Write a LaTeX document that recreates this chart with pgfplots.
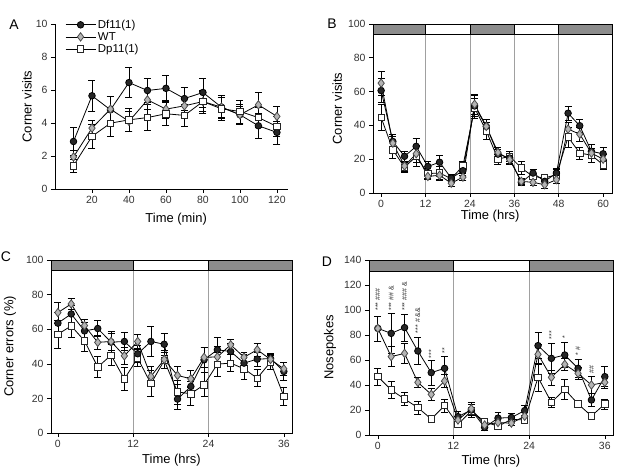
\documentclass[border=0pt]{standalone}
\usepackage{fontspec}
\setmainfont{Liberation Sans}
\usepackage{pgfplots}
\usepackage{pgfplotstable}
\pgfplotsset{compat=1.18}

\definecolor{barg}{HTML}{8C8C8C}
\definecolor{wtg}{HTML}{B4B4B4}
\definecolor{vline}{HTML}{A0A0A0}
\definecolor{tickc}{HTML}{333333}

% panel A: corner visits per 10 min
\pgfplotstableread{
x   df    dfe   wt    wte   dp    dpe
10  2.88  0.85  1.94  0.40  1.41  0.40
20  5.65  0.92  3.69  0.50  3.19  0.70
30  4.80  0.80  4.84  0.78  3.99  0.80
40  6.45  0.90  4.10  0.60  4.19  0.70
50  5.97  0.73  5.40  0.60  4.33  0.78
60  6.10  0.80  4.84  0.55  4.56  0.70
70  5.48  0.70  5.04  0.50  4.46  0.67
80  5.85  0.88  5.30  0.60  5.30  0.70
90  4.96  0.70  4.96  0.60  4.86  0.70
100 4.50  0.60  4.50  0.50  4.70  0.70
110 3.83  0.75  5.10  0.75  4.33  0.60
120 3.43  0.70  4.40  0.60  3.79  0.60
}\tabA

% panel B: corner visits, 60 h
\pgfplotstableread{
x     df    dfe  wt    wte  dp    dpe
0     60.6  7.0  65.0  7.0  44.7  7.7
3.16  30.5  4.0  29.5  4.0  25.6  5.0
6.32  21.7  3.0  16.0  3.0  15.2  3.0
9.47  27.6  5.0  23.2  5.0  21.7  6.0
12.63 15.7  3.0  9.8   2.0  11.5  3.0
15.79 18.2  4.0  10.5  3.0  11.8  4.0
18.95 8.8   2.0  5.8   2.0  8.5   2.0
22.11 13.2  3.0  9.4   2.0  16.0  3.0
25.26 51.5  6.0  52.5  6.0  50.3  6.0
28.42 39.4  4.0  39.4  4.0  36.8  5.0
31.58 23.0  3.0  24.0  3.0  20.0  3.0
34.74 20.7  3.0  19.7  3.0  21.7  3.0
37.89 6.3   2.0  6.9   2.0  14.8  4.0
41.05 11.8  2.0  6.3   2.0  9.8   2.0
44.21 6.9   2.0  4.9   2.0  8.9   2.0
47.37 11.8  3.0  7.9   2.0  10.8  3.0
50.53 47.2  4.0  37.8  4.0  33.1  6.0
53.68 39.8  4.0  34.8  4.0  23.6  3.5
56.84 24.6  4.0  23.6  3.0  22.4  4.0
60    23.2  4.0  20.0  3.0  16.7  3.0
}\tabB

% panel C: corner errors (%), 36 h
\pgfplotstableread{
x     df    dfe  wt    wte  dp    dpe
0     63.5  6.0  69.6  6.0  57.1  8.0
2.12  68.8  5.0  74.6  3.0  61.9  6.5
4.24  59.0  5.0  62.1  3.5  53.3  6.0
6.35  60.4  4.5  52.4  4.0  38.1  6.0
8.47  52.5  5.0  52.9  6.0  45.0  6.0
10.59 52.9  5.0  44.6  5.0  31.2  6.5
12.71 45.8  5.0  52.9  4.0  43.3  5.0
14.82 52.9  8.5  32.7  6.0  28.5  7.5
16.94 51.3  6.5  42.5  5.0  41.9  4.5
19.06 19.6  6.0  33.3  5.0  23.7  7.0
21.18 26.9  5.0  31.3  5.0  22.7  7.0
23.29 42.3  7.0  43.7  6.0  27.9  7.0
25.41 48.1  7.0  44.0  6.0  39.8  7.0
27.53 47.1  5.0  51.0  3.0  40.4  5.0
29.65 40.4  5.0  43.8  3.0  37.1  6.0
31.76 42.7  4.0  48.1  4.0  31.7  5.0
33.88 43.0  3.0  42.5  3.0  41.0  4.0
36    35.6  5.0  37.1  4.0  21.2  5.0
}\tabC

% panel D: nosepokes, 36 h
\pgfplotstableread{
x     df    dfe   wt    wte  dp    dpe
0     85.3  10.0  85.3  10.0 46.7  7.0
2.12  81.3  16.0  62.7  8.0  36.0  6.7
4.24  85.9  11.0  65.3  8.0  28.8  5.0
6.35  67.2  11.0  42.1  4.0  21.9  5.0
8.47  49.9  10.0  32.5  5.0  12.8  2.0
10.59 53.3  10.0  43.2  5.0  23.5  5.0
12.71 14.7  4.0   12.0  3.0  8.5   2.0
14.82 20.0  6.0   21.0  5.0  19.2  5.0
16.94 6.1   2.0   8.0   2.0  10.7  2.0
19.06 13.5  5.0   10.0  3.0  7.0   2.0
21.18 14.0  3.0   9.5   2.0  12.5  2.0
23.29 19.5  4.0   15.0  3.0  12.0  2.0
25.41 71.5  10.5  64.5  8.0  46.1  11.0
27.53 61.3  12.0  46.1  6.0  26.1  4.0
29.65 64.0  10.0  56.5  5.0  36.5  8.0
31.76 53.3  7.0   49.3  5.0  24.8  3.0
33.88 28.0  5.0   40.0  7.0  15.2  2.0
36    46.7  8.0   42.1  5.0  24.8  4.0
}\tabD

\pgfplotsset{
  panel/.style={
    scale only axis, clip=false,
    tick align=outside, xtick pos=bottom, ytick pos=left,
    major tick length=4bp,
    tick style={black, line width=0.6pt},
    axis line style={black, line width=0.6pt},
    ticklabel style={font=\fontsize{10.5}{12}\selectfont, text=tickc},
    label style={font=\fontsize{13}{15}\selectfont},
    /pgf/number format/assume math mode=true,
    xlabel style={anchor=center},
    ylabel style={anchor=center},
  },
  ebar/.style={error bars/.cd, y dir=both, y explicit,
    error bar style={line width=0.7pt, black, solid},
    error mark options={rotate=90, mark size=3.5pt, line width=0.7pt, black}},
  df/.style={black, line width=0.8pt, mark=*, mark size=3.3pt,
    mark options={fill=black!85, draw=black, solid}, ebar},
  wt/.style={black, line width=0.8pt, mark=diamond*, mark size=4.2pt,
    mark options={fill=wtg, draw=black!70, solid}, ebar},
  dp/.style={black, line width=0.8pt, mark=square*, mark size=3.2pt,
    mark options={fill=white, draw=black!85, solid}, ebar},
}

\begin{document}
\begin{tikzpicture}
\path[use as bounding box] (0,0) rectangle (618bp,471bp);

% ---------- A ----------
\begin{axis}[panel, at={(55bp,282bp)}, anchor=south west,
  width=233bp, height=165bp,
  axis lines*=left,
  xmin=0, xmax=126, ymin=0, ymax=10,
  xtick={20,40,...,120}, ytick={0,2,...,10},
  xlabel={Time (min)}, ylabel={Corner visits},
  xlabel style={at={(axis description cs:0.52,-0.18)}},
  ylabel style={at={(axis description cs:-0.12,0.5)}},
  legend style={draw=none, fill=none, at={(0.03,1.05)}, anchor=north west,
    font=\fontsize{11.5}{13}\selectfont, row sep=-1.5pt},
  legend cell align=left,
  legend image code/.code={\draw[mark repeat=2, mark phase=2] plot coordinates {(0bp,0bp) (15bp,0bp) (30bp,0bp)};},
]
\addplot[df] table[x=x, y=df, y error=dfe] {\tabA};
\addplot[wt] table[x=x, y=wt, y error=wte] {\tabA};
\addplot[dp] table[x=x, y=dp, y error=dpe] {\tabA};
\legend{Df11(1), WT, Dp11(1)}
\end{axis}

% ---------- B ----------
\begin{axis}[panel, at={(373bp,278bp)}, anchor=south west,
  width=239bp, height=169bp,
  xmin=-2.2, xmax=62.4, ymin=0, ymax=100,
  xtick={0,12,...,60}, ytick={0,20,...,100},
  xlabel={Time (hrs)}, ylabel={Corner visits},
  xlabel style={at={(axis description cs:0.49,-0.135)}},
  ylabel style={at={(axis description cs:-0.15,0.5)}},
]
\foreach \v in {12,24,36,48} {\edef\tmp{\noexpand\draw[vline, line width=0.8pt] (axis cs:\v,0) -- (axis cs:\v,94);}\tmp}
\filldraw[fill=barg, draw=black, line width=0.6pt] (axis cs:-2.2,94) rectangle (axis cs:12,100);
\filldraw[fill=white, draw=black, line width=0.6pt] (axis cs:12,94) rectangle (axis cs:24,100);
\filldraw[fill=barg, draw=black, line width=0.6pt] (axis cs:24,94) rectangle (axis cs:36,100);
\filldraw[fill=white, draw=black, line width=0.6pt] (axis cs:36,94) rectangle (axis cs:48,100);
\filldraw[fill=barg, draw=black, line width=0.6pt] (axis cs:48,94) rectangle (axis cs:62.4,100);
\addplot[dp] table[x=x, y=dp, y error=dpe] {\tabB};
\addplot[df] table[x=x, y=df, y error=dfe] {\tabB};
\addplot[wt] table[x=x, y=wt, y error=wte] {\tabB};
\end{axis}

% ---------- C ----------
\begin{axis}[panel, at={(51bp,38bp)}, anchor=south west,
  width=241bp, height=173bp,
  xmin=-1.1, xmax=37.3, ymin=0, ymax=100,
  xtick={0,12,24,36}, ytick={0,20,...,100},
  xlabel={Time (hrs)}, ylabel={Corner errors (\%)},
  xlabel style={at={(axis description cs:0.50,-0.156)}},
  ylabel style={at={(axis description cs:-0.17,0.5)}},
]
\draw[vline, line width=0.8pt] (axis cs:12,0) -- (axis cs:12,94);
\draw[vline, line width=0.8pt] (axis cs:24,0) -- (axis cs:24,94);
\filldraw[fill=barg, draw=black, line width=0.6pt] (axis cs:-1.1,94) rectangle (axis cs:12,100);
\filldraw[fill=white, draw=black, line width=0.6pt] (axis cs:12,94) rectangle (axis cs:24,100);
\filldraw[fill=barg, draw=black, line width=0.6pt] (axis cs:24,94) rectangle (axis cs:37.3,100);
\addplot[dp] table[x=x, y=dp, y error=dpe] {\tabC};
\addplot[df] table[x=x, y=df, y error=dfe] {\tabC};
\addplot[wt] table[x=x, y=wt, y error=wte] {\tabC};
\end{axis}

% ---------- D ----------
\begin{axis}[panel, at={(369bp,36bp)}, anchor=south west,
  width=244bp, height=175bp,
  xmin=-1.4, xmax=37.3, ymin=0, ymax=140,
  xtick={0,12,24,36}, ytick={0,20,...,140},
  xlabel={Time (hrs)}, ylabel={Nosepokes},
  xlabel style={at={(axis description cs:0.50,-0.15)}},
  ylabel style={at={(axis description cs:-0.16,0.5)}},
]
\draw[vline, line width=0.8pt] (axis cs:12,0) -- (axis cs:12,131);
\draw[vline, line width=0.8pt] (axis cs:24,0) -- (axis cs:24,131);
\filldraw[fill=barg, draw=black, line width=0.6pt] (axis cs:-1.4,131) rectangle (axis cs:12,140);
\filldraw[fill=white, draw=black, line width=0.6pt] (axis cs:12,131) rectangle (axis cs:24,140);
\filldraw[fill=barg, draw=black, line width=0.6pt] (axis cs:24,131) rectangle (axis cs:37.3,140);
\addplot[dp] table[x=x, y=dp, y error=dpe] {\tabD};
\addplot[df] table[x=x, y=df, y error=dfe] {\tabD};
\addplot[wt] table[x=x, y=wt, y error=wte] {\tabD};
\begin{scope}[every node/.style={rotate=90, anchor=west, inner sep=0.5pt, text=black!80, font=\fontsize{7}{8}\selectfont}]
\node at (axis cs:0,99)     {*** \#\#\#};
\node at (axis cs:2.12,99)  {*** \#\# \&};
\node at (axis cs:4.24,99)  {*** \#\#\# \&};
\node at (axis cs:6.35,81)  {*** \# \&\&};
\node at (axis cs:8.47,61)  {***};
\node at (axis cs:10.59,65) {**};
\node at (axis cs:27.53,76) {***};
\node at (axis cs:29.65,77) {*};
\node at (axis cs:31.76,63) {* \#};
\node at (axis cs:33.88,49) {\#\#};
\end{scope}
\end{axis}

% panel letters
\node[font=\fontsize{14}{16}\selectfont] at (14bp,446bp) {A};
\node[font=\fontsize{14}{16}\selectfont] at (332bp,447bp) {B};
\node[font=\fontsize{14}{16}\selectfont] at (6bp,214bp) {C};
\node[font=\fontsize{14}{16}\selectfont] at (327bp,209bp) {D};
\end{tikzpicture}
\end{document}
